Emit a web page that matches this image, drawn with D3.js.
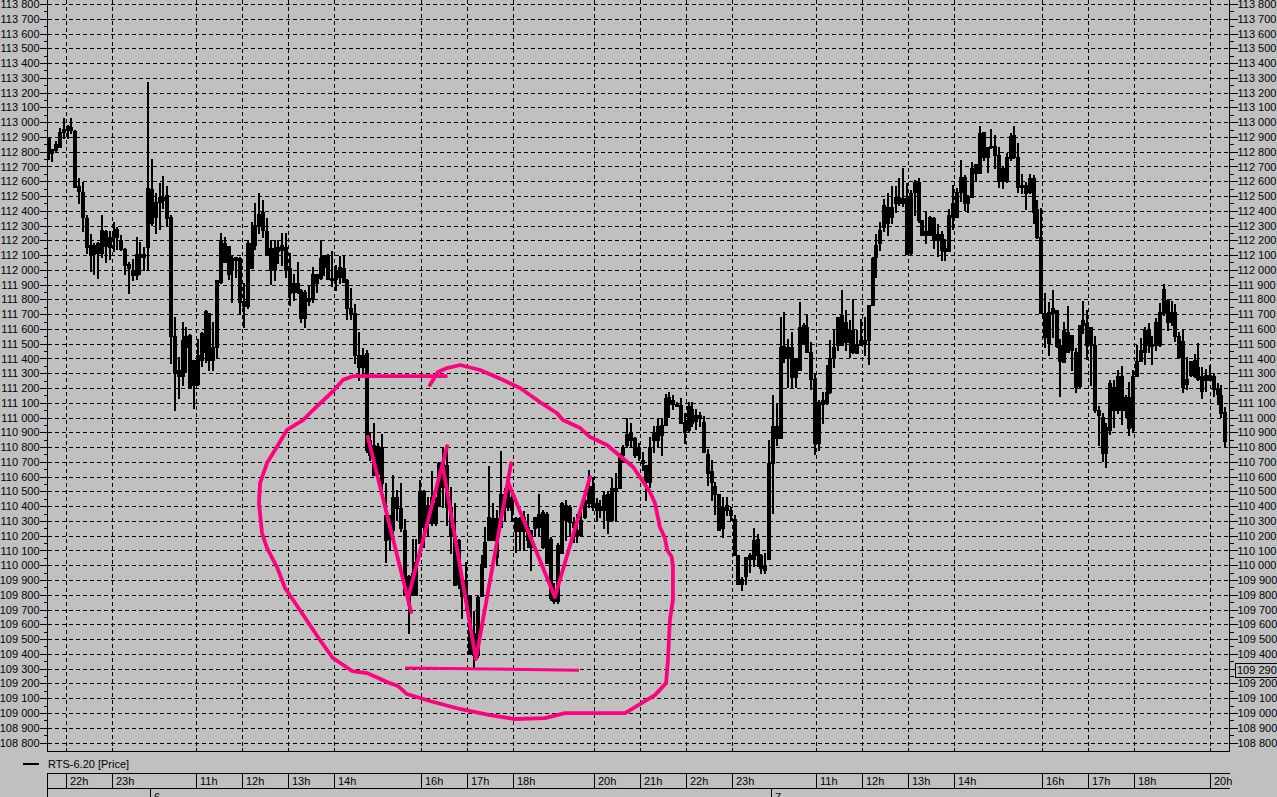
<!DOCTYPE html>
<html>
<head>
<meta charset="utf-8">
<style>
	html, body { margin: 0; padding: 0; background: #c0c0c0; overflow: hidden; }
	svg { display: block; font-family: "Liberation Sans", Arial, sans-serif; font-size: 11px; }
	text { fill: #000; }
	.domain { display: none; }
</style>
<script src="https://cdn.jsdelivr.net/npm/d3@7/dist/d3.min.js"></script>
</head>
<body>
<script>
var highs = [
	112900,112820,112870,112960,113025,112980,113025,112950,112620,112595,
	112370,112245,112185,112190,112370,112270,112260,112325,112290,112235,
	112145,112055,112075,112220,112190,112155,113275,112750,112520,112585,
	112635,112565,112370,111680,111410,111650,111615,111565,111390,111530,
	111580,111725,111710,111650,111930,112250,112225,112160,112100,112090,
	112090,111910,112205,112325,112455,112520,112475,112350,112205,112205,
	112205,112250,112250,112115,111975,112050,111870,111865,111890,112020,
	111975,112205,112100,112110,112125,112035,112095,112100,111935,111880,
	111770,111580,111470,111460,110905,110960,110825,110888,110560,110340,
	110610,110510,110560,110315,109935,110180,110180,110580,110510,110465,
	110635,110465,110700,110800,110810,110530,110420,110180,109945,110025,
	109800,109690,109790,110070,110260,110670,110420,110375,110775,110520,
	110590,110500,110330,110330,110370,110350,110240,110330,110480,110375,
	110360,110190,109880,110150,110430,110440,110405,110330,110350,110395,
	110510,110645,110600,110455,110440,110500,110500,110590,110625,110760,
	110815,111000,110960,110870,110825,110770,110680,110870,110940,110995,
	110995,111160,111170,111150,111105,111135,111030,111105,111105,111060,
	111040,111010,110790,110710,110565,110485,110465,110465,110395,110340,
	110070,109920,110055,110080,110250,110215,110075,110080,110850,111150,
	111095,111680,111715,111535,111580,111400,111780,111640,111695,111510,
	111300,111120,111175,111355,111525,111590,111680,111865,111725,111660,
	111800,111595,111670,111680,111760,112090,112245,112325,112477,112518,
	112565,112565,112620,112687,112585,112540,112608,112620,112337,112393,
	112364,112355,112310,112265,112206,112410,112574,112552,112743,112642,
	112506,112732,112720,112974,112935,112834,112951,112913,112834,112698,
	112789,112928,112974,112856,112649,112597,112649,112642,112473,112416,
	111840,111785,111863,111728,111530,111650,111752,111560,111470,111628,
	111786,111725,111616,111553,111079,111030,110966,111255,111255,111323,
	111350,111154,111244,111323,111492,111537,111612,111639,111553,111673,
	111774,111905,111801,111792,111768,111576,111594,111409,111386,111431,
	111508,111345,111327,111357,111300,111233,111221,111070
];

var lows = [
	112750,112740,112800,112830,112890,112890,112925,112560,112455,112265,
	112115,111995,111975,111945,112090,112050,112075,112130,112140,112135,
	111970,111840,111930,111935,111975,112000,112000,112305,112250,112280,
	112420,112295,111370,111050,111130,111220,111310,111210,111065,111220,
	111350,111375,111320,111325,111400,111910,112055,111935,111780,111950,
	111700,111610,111740,112010,112140,112250,112225,112100,111905,111930,
	112045,112035,111955,111765,111795,111840,111650,111610,111765,111785,
	111850,111935,111965,111935,111890,111865,111910,111935,111670,111670,
	111370,111255,111280,110770,110715,110610,110565,110465,110020,110100,
	110170,110305,110230,109800,109540,109800,109800,110205,110125,110200,
	110270,110270,110400,110395,110270,110080,109880,109845,109640,109700,
	109405,109300,109380,109790,109990,110170,110170,110000,110260,110300,
	110375,110305,110090,110105,110105,110125,109970,110195,110195,110115,
	110035,109765,109745,109745,110080,110170,110195,110160,110155,110195,
	110320,110395,110375,110305,110330,110250,110220,110300,110300,110520,
	110700,110800,110800,110735,110710,110645,110440,110530,110770,110800,
	110745,110950,111005,111060,111075,110960,110825,110905,110940,110925,
	110940,110770,110545,110440,110350,110240,110190,110340,110305,110070,
	109875,109830,109875,109955,109995,109995,109950,109950,110040,110355,
	110815,110860,111378,111210,111210,111210,111320,111500,111445,111195,
	110755,110780,110960,111095,111165,111345,111460,111490,111455,111410,
	111435,111440,111490,111425,111362,111760,111955,112135,112265,112235,
	112320,112395,112440,112432,112110,112110,112370,112326,112235,112180,
	112235,112145,112095,112066,112066,112130,112280,112360,112468,112405,
	112394,112490,112604,112658,112743,112664,112822,112687,112563,112552,
	112597,112743,112755,112529,112518,112412,112518,112320,112213,111705,
	111480,111423,111547,111480,111147,111379,111447,111323,111170,111210,
	111571,111395,111221,111041,110815,110709,110668,110890,110939,111030,
	110957,111002,110883,110899,111278,111386,111364,111447,111364,111458,
	111485,111695,111594,111628,111515,111402,111176,111192,111278,111273,
	111255,111131,111183,111255,111147,111093,111002,110808
];

// every candle is black in the picture, so only top/bottom of the body can be read
var bodyTops = [
	112890,112815,112855,112935,112955,112975,112970,112940,112565,112530,
	112350,112165,112165,112180,112270,112260,112225,112255,112280,112205,
	112140,112040,112000,112110,112110,112110,112553,112550,112460,112495,
	112495,112510,112360,111550,111320,111525,111550,111560,111390,111425,
	111570,111720,111705,111480,111930,112205,112180,112160,112080,112090,
	112080,111790,112180,112180,112305,112380,112395,112260,112145,112145,
	112155,112170,112155,112010,111910,111910,111865,111850,111810,111975,
	111970,112080,112100,112100,111945,112000,112020,112010,111930,111740,
	111710,111425,111425,111440,110850,110815,110810,110800,110340,110315,
	110460,110460,110385,110240,109930,109945,110020,110500,110500,110410,
	110465,110420,110690,110690,110680,110395,110195,110170,109865,109900,
	109800,109540,109785,110010,110160,110330,110320,110320,110485,110485,
	110575,110465,110320,110320,110330,110260,110240,110330,110350,110360,
	110350,110180,109790,110135,110420,110410,110395,110295,110240,110305,
	110440,110540,110540,110420,110395,110475,110485,110520,110520,110745,
	110800,110890,110900,110860,110800,110710,110680,110800,110905,110940,
	110950,111130,111140,111120,111095,111085,110970,111075,111060,111015,
	111015,110970,110755,110635,110540,110485,110395,110410,110375,110315,
	110070,109910,110055,110070,110170,110180,110070,110000,110695,110940,
	110940,111480,111485,111480,111480,111400,111615,111625,111615,111445,
	111260,111105,111120,111175,111400,111480,111680,111695,111650,111590,
	111590,111500,111525,111525,111760,112080,112168,112270,112440,112427,
	112427,112490,112490,112485,112485,112518,112597,112597,112337,112265,
	112355,112348,112242,112242,112145,112370,112450,112530,112626,112626,
	112500,112687,112720,112928,112935,112834,112838,112838,112777,112687,
	112766,112906,112913,112762,112574,112574,112620,112620,112410,112225,
	111705,111716,111740,111728,111492,111594,111582,111560,111447,111628,
	111661,111639,111616,111492,111052,111007,110939,111233,111210,111278,
	111278,111142,111142,111278,111386,111458,111594,111594,111499,111650,
	111718,111870,111797,111718,111718,111553,111515,111260,111386,111391,
	111345,111282,111289,111289,111282,111199,111154,111041
];

var bodyBottoms = [
	112790,112790,112810,112835,112935,112950,112945,112560,112535,112355,
	112155,112100,112110,112115,112115,112160,112155,112220,112225,112140,
	112030,112010,111965,111965,112090,112090,112158,112315,112360,112460,
	112475,112350,111550,111300,111280,111280,111480,111210,111220,111230,
	111390,111445,111390,111390,111480,111920,112055,111975,112000,112070,
	111785,111755,111755,112010,112170,112295,112270,112100,112000,112000,
	112125,112135,112000,111845,111850,111850,111675,111675,111790,111800,
	111910,111945,112020,111935,111930,111935,111955,111920,111740,111710,
	111425,111345,111345,110780,110745,110610,110620,110560,110170,110180,
	110240,110385,110250,109800,109740,109800,109800,110150,110260,110285,
	110285,110285,110410,110530,110395,110195,109865,109870,109790,109760,
	109405,109390,109390,109790,109990,110170,110170,110055,110260,110440,
	110395,110375,110230,110230,110230,110170,110125,110250,110260,110125,
	110015,109775,109755,109755,110080,110305,110295,110260,110195,110205,
	110330,110420,110395,110375,110375,110375,110305,110305,110500,110520,
	110745,110815,110850,110745,110745,110690,110565,110565,110850,110850,
	110880,110950,111095,111095,111078,110960,110905,110915,110960,110980,
	110995,110770,110625,110565,110485,110240,110250,110375,110340,110070,
	109875,109875,109930,110045,110045,110070,109980,109965,110040,110695,
	110860,110860,111400,111400,111275,111275,111320,111500,111445,111260,
	110830,110830,111090,111105,111175,111400,111490,111490,111510,111510,
	111445,111440,111490,111500,111525,111760,112090,112180,112290,112315,
	112355,112455,112450,112450,112110,112115,112530,112337,112235,112235,
	112235,112200,112200,112134,112130,112130,112355,112360,112530,112455,
	112455,112490,112658,112658,112766,112762,112830,112777,112604,112604,
	112604,112755,112766,112563,112558,112518,112529,112394,112225,111705,
	111547,111502,111705,111484,111386,111379,111447,111458,111210,111215,
	111628,111492,111492,111052,111018,110759,110759,110917,111052,111052,
	111052,111052,110928,110939,111278,111386,111447,111492,111485,111492,
	111492,111706,111650,111650,111553,111409,111210,111228,111289,111282,
	111260,111183,111255,111255,111192,111160,111030,110838
];

// hour marks sit on bar positions (fractional bar number), sessions skip some hours
var hourBars = [4.45,16.45,38.35,50.35,62.35,74.35,97.3,109.3,121.3,142.2,154.2,166.2,178.2,200.35,212.35,224.35,236.35,259.3,271.3,283.3,303.1];
var hourLabels = ["22h","23h","11h","12h","13h","14h","16h","17h","18h","20h","21h","22h","23h","11h","12h","13h","14h","16h","17h","18h","20h"];
var dayBars = [26.5, 188.5];
var dayLabels = ["6", "7"];
var lastPrice = 109290;
var seriesName = "RTS-6.20 [Price]";

// hand drawn marker strokes, as [bar number, price]
var penLoop = [
	[103.7,111280],[79.4,111280],[76.8,111255],[74,111173],[69,111051],[66.4,110983],[62.2,110916],[59.1,110780],
	[57,110692],[55.2,110557],[54.9,110421],[55.7,110218],[57,110117],[59.6,109988],[61.7,109846],[66.1,109677],
	[70.8,109494],[74.2,109372],[79.2,109284],[83.1,109270],[88.3,109209],[91.2,109182],[93.5,109128],[99.5,109081],
	[107.3,109027],[115.2,108986],[121.7,108959],[129.5,108965],[134.7,108999],[150.4,108999],[154.3,109060],[158.2,109121],
	[161.1,109202],[161.6,109358],[162.1,109629],[162.9,109764],[162.9,109988],[162.6,110056],[161.4,110103],[160.8,110184],
	[159.5,110259],[158.2,110421],[156.9,110496],[154.3,110597],[152.5,110665],[145.7,110814],[141.3,110868],[138.7,110929],
	[134.2,110983],[132.6,111031],[128.2,111105],[123,111200],[118.6,111254],[112.6,111322],[107.4,111356],[104,111335],
	[101.6,111308],[99.5,111220]
];
var penZigzag1 = [[83.3,110868],[94.6,109683]];
var penZigzag2 = [[93.8,109778],[104,110807]];
var penZigzag3 = [[102.9,110665],[111.5,109365],[120.7,110692]];
var penZigzag4 = [[119.9,110563],[132.1,109785],[141.3,110597]];
var penBase = [[93,109304],[138.4,109290]];

var w = 1277,
	h = 797,
	plotLeft = 47.5,
	plotRight = 1229.5,
	plotBottom = 751.5;

var x = d3.scaleLinear().domain([0, highs.length - 1]).range([48.5, 1225.3]),
	y = d3.scaleLinear().domain([108800, 113800]).range([742.5, 4]);

function px(v) {
	return Math.round(v) + 0.5;
}

var svg = d3.select("body")
	.append("svg")
	.attr("width", w)
	.attr("height", h);

var priceMajor = d3.range(108800, 113801, 100),
	priceMinor = d3.range(108850, 113800, 100);

function priceFormat(d) {
	return d3.format(",")(d).replace(",", " ");
}

// dashed grid
var grid = svg.append("g")
	.attr("stroke", "#000")
	.attr("stroke-dasharray", "4,3")
	.attr("shape-rendering", "crispEdges");

grid.selectAll("line.h")
	.data(priceMajor)
	.enter()
	.append("line")
	.attr("x1", plotLeft)
	.attr("x2", plotRight)
	.attr("y1", function (d) { return px(y(d)); })
	.attr("y2", function (d) { return px(y(d)); });

grid.selectAll("line.v")
	.data(hourBars)
	.enter()
	.append("line")
	.attr("x1", function (d) { return px(x(d)); })
	.attr("x2", function (d) { return px(x(d)); })
	.attr("y1", 0)
	.attr("y2", plotBottom);

// candles
var bars = svg.append("g")
	.attr("fill", "#000")
	.attr("shape-rendering", "crispEdges");

bars.selectAll("rect.wick")
	.data(highs)
	.enter()
	.append("rect")
	.attr("class", "wick")
	.attr("x", function (d, i) { return Math.round(x(i)) - 1; })
	.attr("width", 2)
	.attr("y", function (d) { return Math.round(y(d)); })
	.attr("height", function (d, i) { return Math.round(y(lows[i])) - Math.round(y(d)) + 1; });

bars.selectAll("rect.body")
	.data(bodyTops)
	.enter()
	.append("rect")
	.attr("class", "body")
	.attr("x", function (d, i) { return Math.round(x(i)) - 2; })
	.attr("width", 4)
	.attr("y", function (d) { return Math.round(y(d)); })
	.attr("height", function (d, i) { return Math.max(2, Math.round(y(bodyBottoms[i])) - Math.round(y(d)) + 1); });

// price axes, major + short minor ticks
function drawAxis(axisFn, tx) {
	var g = svg.append("g")
		.attr("transform", "translate(" + tx + ",0)")
		.attr("shape-rendering", "crispEdges");

	g.call(axisFn(y).tickValues(priceMajor).tickSize(8).tickPadding(0).tickFormat(priceFormat));
	g.selectAll("text")
		.attr("font-size", 11)
		.attr("font-family", "'Liberation Sans', Arial, sans-serif")
		.attr("fill", "#000");
	g.selectAll("line").attr("stroke", "#000");

	var m = svg.append("g")
		.attr("transform", "translate(" + tx + ",0)")
		.attr("shape-rendering", "crispEdges");
	m.call(axisFn(y).tickValues(priceMinor).tickSize(4).tickFormat(""));
	m.selectAll("line").attr("stroke", "#000");
}

drawAxis(d3.axisLeft, plotLeft);
drawAxis(d3.axisRight, plotRight);

// frame
var frame = svg.append("g")
	.attr("stroke", "#000")
	.attr("fill", "none")
	.attr("shape-rendering", "crispEdges");

frame.append("path")
	.attr("d", "M" + plotLeft + ",0V" + plotBottom + "H" + plotRight + "V0");

// solid stubs where the hour lines meet the bottom edge
frame.selectAll("line")
	.data(hourBars)
	.enter()
	.append("line")
	.attr("x1", function (d) { return px(x(d)); })
	.attr("x2", function (d) { return px(x(d)); })
	.attr("y1", 748)
	.attr("y2", plotBottom);

// last price box on the right
svg.append("rect")
	.attr("x", 1235.5)
	.attr("y", Math.round(y(lastPrice)) - 6.5)
	.attr("width", 42)
	.attr("height", 14)
	.attr("fill", "#c0c0c0")
	.attr("stroke", "#000")
	.attr("shape-rendering", "crispEdges");

svg.append("text")
	.attr("x", 1237)
	.attr("y", y(lastPrice))
	.attr("dy", "0.36em")
	.text(priceFormat(lastPrice));

// legend
svg.append("line")
	.attr("x1", 23)
	.attr("x2", 39)
	.attr("y1", 763.5)
	.attr("y2", 763.5)
	.attr("stroke", "#000")
	.attr("stroke-width", 2)
	.attr("shape-rendering", "crispEdges");

svg.append("text")
	.attr("x", 48)
	.attr("y", 768)
	.text(seriesName);

// time strip under the chart
var strip = svg.append("g")
	.attr("stroke", "#000")
	.attr("shape-rendering", "crispEdges");

strip.append("path")
	.attr("fill", "none")
	.attr("d", "M" + plotLeft + ",797V773.5H" + plotRight + "M" + plotLeft + ",788.5H" + plotRight);

strip.selectAll("line.hour")
	.data(hourBars)
	.enter()
	.append("line")
	.attr("x1", function (d) { return px(x(d)); })
	.attr("x2", function (d) { return px(x(d)); })
	.attr("y1", 773.5)
	.attr("y2", 788.5);

strip.selectAll("line.day")
	.data(dayBars)
	.enter()
	.append("line")
	.attr("x1", function (d) { return px(x(d)); })
	.attr("x2", function (d) { return px(x(d)); })
	.attr("y1", 788.5)
	.attr("y2", 797);

svg.selectAll("text.hour")
	.data(hourLabels)
	.enter()
	.append("text")
	.attr("class", "hour")
	.attr("x", function (d, i) { return px(x(hourBars[i])) + 3.5; })
	.attr("y", 785)
	.text(function (d) { return d; });

svg.selectAll("text.day")
	.data(dayLabels)
	.enter()
	.append("text")
	.attr("class", "day")
	.attr("x", function (d, i) { return px(x(dayBars[i])) + 3.5; })
	.attr("y", 801)
	.text(function (d) { return d; });

// pink pen marks on top of everything
var penLine = d3.line()
	.x(function (d) { return x(d[0]); })
	.y(function (d) { return y(d[1]); });

svg.append("g")
	.selectAll("path")
	.data([penLoop, penZigzag1, penZigzag2, penZigzag3, penZigzag4])
	.enter()
	.append("path")
	.attr("d", penLine)
	.attr("fill", "none")
	.attr("stroke", "#ff007f")
	.attr("stroke-width", 3.8)
	.attr("stroke-linecap", "round")
	.attr("stroke-linejoin", "round");

svg.append("path")
	.datum(penBase)
	.attr("d", penLine)
	.attr("fill", "none")
	.attr("stroke", "#ff007f")
	.attr("stroke-width", 3);
</script>
</body>
</html>
